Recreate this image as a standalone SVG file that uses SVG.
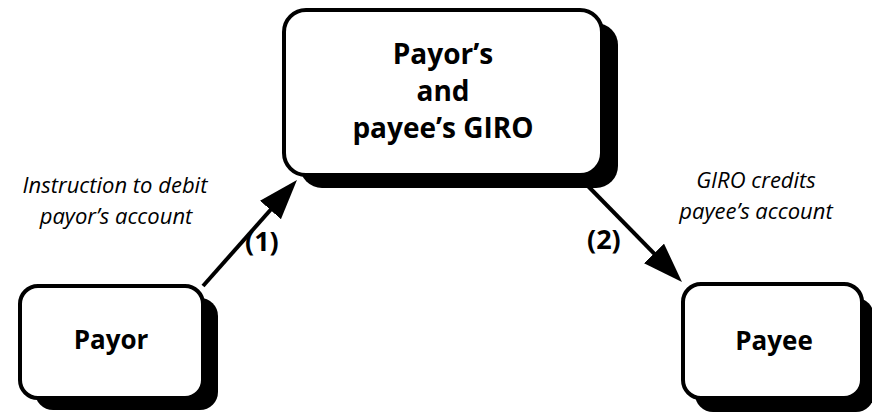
<svg xmlns="http://www.w3.org/2000/svg" width="872" height="415" viewBox="0 0 872 415">
  <style>
    .shadow { fill: #000; }
    .box { fill: #fff; stroke: #000; stroke-width: 4; }
    .name { font-family: "Open Sans", "Noto Sans", "Liberation Sans", sans-serif; font-weight: bold; font-size: 28px; fill: #000; text-anchor: middle; }
    .small { font-size: 26px; }
    .note { font-family: "Open Sans", "Noto Sans", "Liberation Sans", sans-serif; font-style: italic; font-size: 22px; fill: #000; text-anchor: middle; }
    .step { font-family: "Open Sans", "Noto Sans", "Liberation Sans", sans-serif; font-weight: bold; font-size: 27px; fill: #000; }
    .flow { stroke: #000; stroke-width: 4; fill: none; }
  </style>
  <defs>
    <marker id="head" viewBox="0 0 40 28" refX="20" refY="14" markerWidth="40" markerHeight="28" markerUnits="userSpaceOnUse" orient="auto">
      <path d="M0,0 L40,14 L0,28 Z" fill="#000"/>
    </marker>
  </defs>

  <rect width="872" height="415" fill="#fff"/>

  <!-- central clearing house -->
  <g id="giro">
    <rect class="shadow" x="300" y="23" width="318" height="165" rx="22"/>
    <rect class="box" x="284" y="10" width="318" height="165" rx="22"/>
    <text class="name" x="443" y="64">Payor’s</text>
    <text class="name" x="443" y="101">and</text>
    <text class="name" x="443" y="138">payee’s GIRO</text>
  </g>

  <g id="payor">
    <rect class="shadow" x="35" y="298" width="183" height="112" rx="18"/>
    <rect class="box" x="20" y="286" width="183" height="112" rx="18"/>
    <text class="name small" x="111" y="349">Payor</text>
  </g>

  <g id="payee">
    <rect class="shadow" x="695" y="298" width="179" height="114" rx="18"/>
    <rect class="box" x="683" y="284" width="179" height="114" rx="18"/>
    <text class="name small" x="774" y="350">Payee</text>
  </g>

  <g id="connectors">
    <line class="flow" x1="203" y1="286" x2="283.7" y2="195" marker-end="url(#head)"/>
    <line class="flow" x1="585" y1="183" x2="668" y2="267.7" marker-end="url(#head)"/>
  </g>

  <g id="labels">
    <text class="note" x="115" y="193">Instruction to debit</text>
    <text class="note" x="116" y="224">payor’s account</text>
    <text class="step" x="245" y="251">(1)</text>
    <text class="note" x="756" y="188">GIRO credits</text>
    <text class="note" x="756" y="219">payee’s account</text>
    <text class="step" x="587" y="249">(2)</text>
  </g>
</svg>
